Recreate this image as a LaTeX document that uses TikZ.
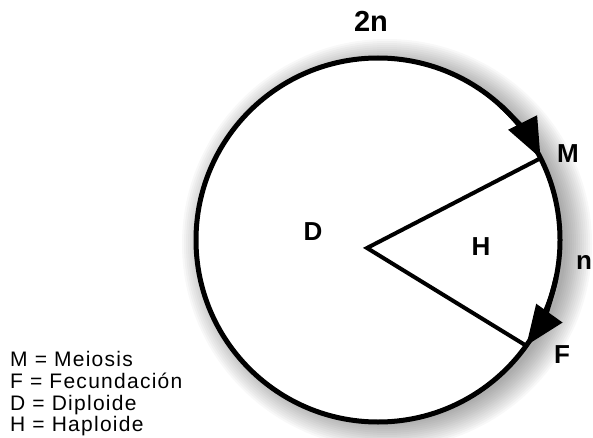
\documentclass[tikz,border=0pt]{standalone}
\usepackage{fontspec}
\setmainfont{Liberation Sans}
\usetikzlibrary{arrows.meta}
\tikzset{lab/.style = {font=\fontsize{26}{26}\selectfont\bfseries, inner sep=0pt},
  key/.style = {font=\fontsize{21}{21}\selectfont\addfontfeature{LetterSpace=6}, inner sep=0pt, anchor=base west},
  cyc/.style = {line width=5pt},
  spoke/.style = {line width=4pt, line join=miter},
  tip/.style = {-{Triangle[length=40pt,width=31pt]}}}

\begin{document}
\begin{tikzpicture}[x=1pt, y=1pt]
  \useasboundingbox (0,0) rectangle (593,437);
  \coordinate (c) at (378,197);
  % soft shadow
  \foreach \k in {1,...,14}
    \fill[black, opacity=.028] ([xshift=9pt, yshift=-4pt]c) circle[radius=177+2*\k];
  \filldraw[fill=white, cyc] (c) circle[radius=182];
  \path (c) ++(26.7:182) coordinate (m)
        (c) ++(-35.5:182) coordinate (f);
  \coordinate (v) at (367,189);
  \draw[cyc, tip] (c) ++(48:182) arc[start angle=48, end angle=26.7, radius=182];
  \draw[cyc, tip] (c) ++(-12:182) arc[start angle=-12, end angle=-35.5, radius=182];
  \draw[spoke] (m) -- (v) -- (f);
  \node[lab, font=\fontsize{29}{29}\selectfont\bfseries] (twon) at (371,416) {2n};
  \node[lab] (lm) at (568,283) {M};
  \node[lab, anchor=west] (ln) at (576,175) {n};
  \node[lab] (ld) at (313,205) {D};
  \node[lab] (lh) at (481,190) {H};
  \node[lab] (lf) at (562,82) {F};
  \node[key] (km) at (10,71) {M = Meiosis};
  \node[key] (kf) at (10,49) {F = Fecundación};
  \node[key] (kd) at (10,27) {D = Diploide};
  \node[key] (kh) at (10,6) {H = Haploide};
\end{tikzpicture}
\end{document}
